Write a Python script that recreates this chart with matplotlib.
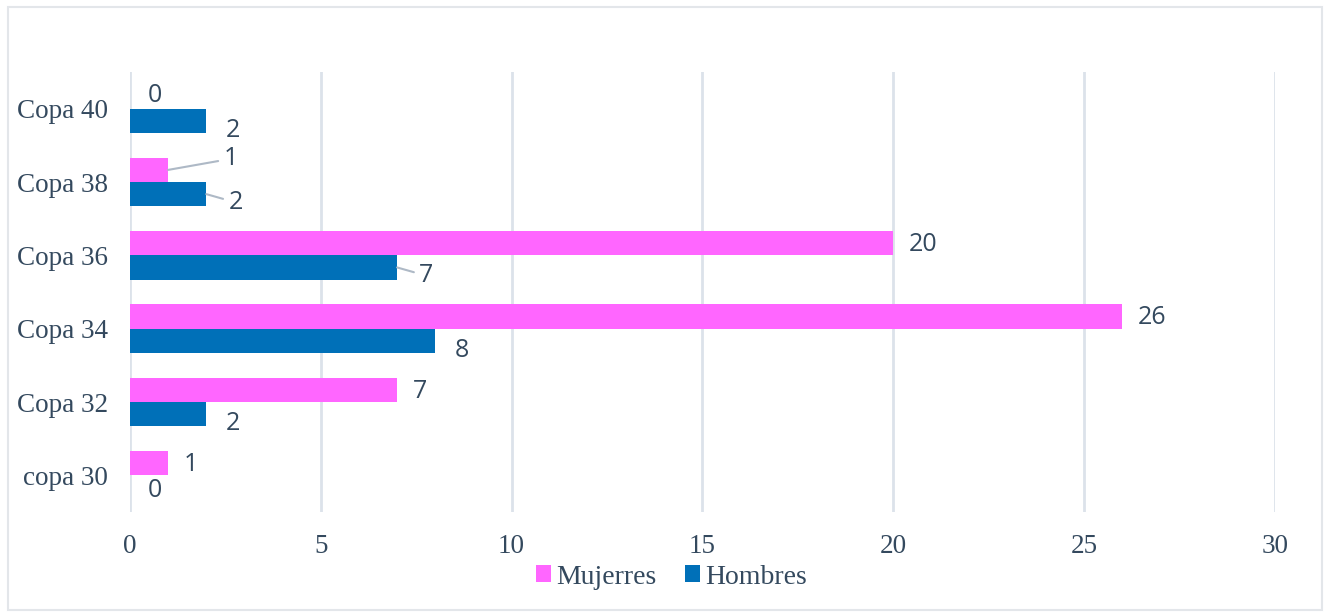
import numpy as np
import matplotlib.pyplot as plt
from matplotlib.patches import Rectangle

categorias = ['copa 30', 'Copa 32', 'Copa 34', 'Copa 36', 'Copa 38', 'Copa 40']
mujeres = [1, 7, 26, 20, 1, 0]
hombres = [0, 2, 8, 7, 2, 2]

pink = '#FF66FF'
blue = '#0070B8'
txt = '#34495E'
grid = '#DCE2EA'

fig = plt.figure(figsize=(13.3, 6.16), dpi=100)
fig.patches.append(Rectangle((0.006, 0.01), 0.988, 0.978, transform=fig.transFigure,
                             fill=False, edgecolor='#E3E6EA', linewidth=1.5))
ax = fig.add_axes([0.0977, 0.1688, 0.8609, 0.7143])

y = np.arange(len(categorias))
h = 0.33
ax.barh(y + h / 2, mujeres, height=h, color=pink, label='Mujerres', zorder=3)
ax.barh(y - h / 2, hombres, height=h, color=blue, label='Hombres', zorder=3)

ax.set_xlim(0, 30)
ax.set_ylim(-0.5, 5.5)
ax.set_xticks(np.arange(0, 31, 5))
ax.set_yticks(y)
ax.set_yticklabels(categorias)
ax.grid(axis='x', color=grid, linewidth=2, zorder=0)
for s in ax.spines.values():
    s.set_visible(False)
ax.tick_params(axis='both', length=0, labelsize=19.5, labelcolor=txt)
ax.tick_params(axis='x', pad=16)
ax.tick_params(axis='y', pad=16)
for lab in ax.get_xticklabels() + ax.get_yticklabels():
    lab.set_family('Liberation Serif')

lab_font = dict(fontsize=18, color=txt, family='Open Sans', va='center')

# data labels (offsets in points); leader lines on the crowded ones
def put(v, yy, dx, dy, leader=False):
    kw = dict(xy=(v, yy), xytext=(dx, dy), textcoords='offset points',
              ha='left', **lab_font)
    if leader:
        kw['arrowprops'] = dict(arrowstyle='-', color='#AEB9C6', lw=1.5,
                                shrinkA=2, shrinkB=0)
    ax.annotate(str(v), **kw)

for i, v in enumerate(mujeres):
    if v == 0:
        put(v, y[i] + h / 2, 13, 1)
    elif categorias[i] == 'Copa 38':
        put(v, y[i] + h / 2, 40, 8, leader=True)
    else:
        put(v, y[i] + h / 2, 11, -1)

for i, v in enumerate(hombres):
    if v == 0:
        put(v, y[i] - h / 2, 13, -2)
    elif categorias[i] in ('Copa 38', 'Copa 36'):
        put(v, y[i] - h / 2, 16, -6, leader=True)
    else:
        put(v, y[i] - h / 2, 14, -7)

leg = ax.legend(loc='center', bbox_to_anchor=(0.473, -0.148), ncol=2, frameon=False,
                handlelength=0.55, handleheight=0.55, handletextpad=0.2, columnspacing=1.0,
                prop={'family': 'Liberation Serif', 'size': 20})
for t in leg.get_texts():
    t.set_color(txt)

fig.savefig('out.png', dpi=100)
